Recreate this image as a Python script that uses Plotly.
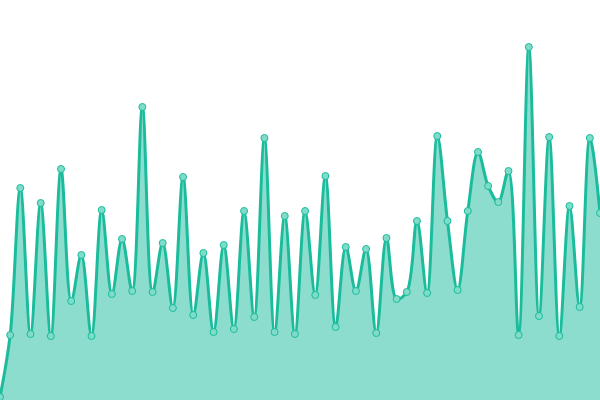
import plotly.graph_objs as go

# values (height above the bottom edge)
days = list(range(60))
values = [
    3, 65, 212, 66, 197, 64, 231, 99, 145, 64,
    190, 106, 161, 109, 293, 108, 157, 92, 223, 85,
    147, 68, 155, 71, 189, 83, 262, 68, 184, 66,
    189, 105, 224, 73, 153, 109, 151, 67, 162, 101,
    108, 179, 107, 264, 179, 110, 189, 248, 214, 198,
    229, 65, 353, 84, 263, 64, 194, 93, 262, 187,
]

line_color = '#1abc9c'


def createsChart():
    global fig
    fig = go.Figure(go.Scatter(
        x=days,
        y=values,
        mode='lines+markers',
        line=dict(color=line_color, width=3, shape='spline', smoothing=1),
        fill='tozeroy',
        fillcolor='rgba(26,188,156,0.5)',
        marker=dict(size=7, color='#7fdcc9',
                    line=dict(color=line_color, width=1)),
        hoverinfo='skip',
    ))

    fig.update_layout(
        width=600,
        height=400,
        margin=dict(l=0, r=0, t=0, b=0),
        paper_bgcolor='white',
        plot_bgcolor='white',
        showlegend=False,
        xaxis=dict(visible=False, range=[0, 59]),
        yaxis=dict(visible=False, range=[0, 400]),
    )


def main():
    createsChart()
    # drop the page margin so the chart sits flush in the window
    fig.write_html("out.html",
                   config=dict(displayModeBar=False),
                   post_script="document.body.style.margin='0';"
                               "document.body.style.overflow='hidden';")


main()
